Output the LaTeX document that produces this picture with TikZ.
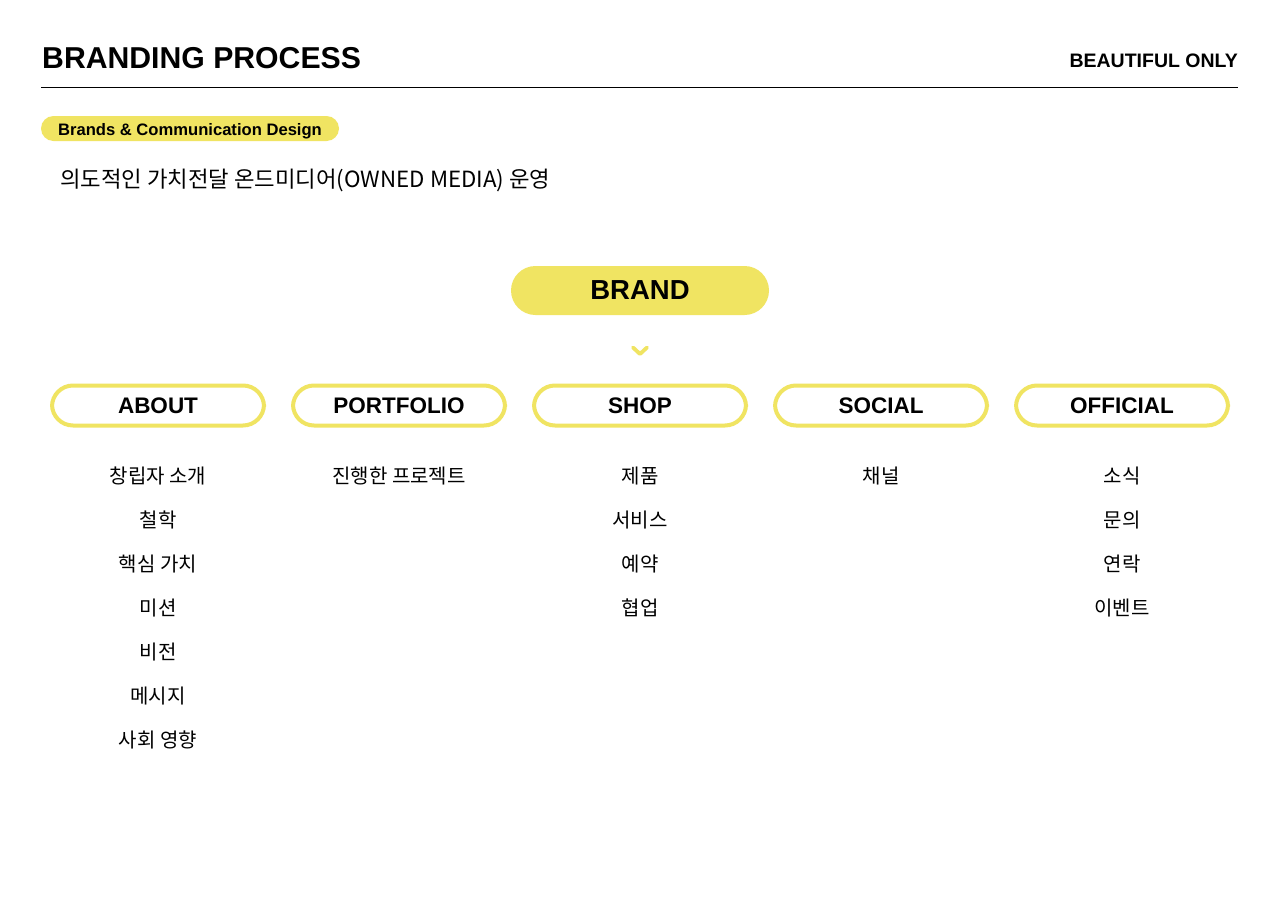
\documentclass[tikz,border=0pt]{standalone}
\usepackage{fontspec}
\setmainfont{Liberation Sans}
\newfontfamily\kr{Noto Sans CJK KR}
\definecolor{brandyellow}{HTML}{F0E462}
\begin{document}
\begin{tikzpicture}[x=1pt,y=-1pt,
  cat/.style={draw=brandyellow,line width=4pt,fill=white,rounded corners=21pt,minimum width=212pt,minimum height=40pt,inner sep=0pt,font=\fontsize{22.5}{24}\selectfont\bfseries},
  item/.style={font=\kr\fontsize{20}{22}\selectfont,inner sep=0pt,anchor=center},
  ]
\useasboundingbox (0,0) rectangle (1280,905);
\fill[white] (0,0) rectangle (1280,905);
% header
\node[anchor=base west,inner sep=0pt,font=\fontsize{30.2}{32}\selectfont\bfseries] (title) at (42,68) {BRANDING PROCESS};
\node[anchor=base east,inner sep=0pt,font=\fontsize{19.5}{22}\selectfont\bfseries] (tag) at (1238,67) {BEAUTIFUL ONLY};
\coordinate (l1) at (41,87.5);
\coordinate (l2) at (1238,87.5);
\draw[line width=1pt] (l1) -- (l2);
% label pill
\node[fill=brandyellow,rounded corners=12.5pt,minimum width=298pt,minimum height=25pt,inner sep=0pt] (pill) at (190,128.5) {};
\node[anchor=base,inner sep=0pt,font=\fontsize{16.6}{18}\selectfont\bfseries] (pilltext) at (190,135) {Brands \& Communication Design};
\node[anchor=west,inner sep=0pt,font=\kr\fontsize{22.3}{24}\selectfont] (sub) at (60,180) {의도적인 가치전달 온드미디어(OWNED MEDIA) 운영};
% brand
\node[fill=brandyellow,rounded corners=24.5pt,minimum width=258pt,minimum height=49pt,inner sep=0pt,font=\fontsize{27.5}{30}\selectfont\bfseries] (brand) at (640,290.5) {BRAND};
\coordinate (c1) at (633,347.5);
\coordinate (c2) at (640,354);
\coordinate (c3) at (647,347.5);
\draw[brandyellow,line width=3.8pt,line cap=round,line join=round] (c1) -- (c2) -- (c3);
% categories
\node[cat] (about) at (158,405.5) {ABOUT};
\node[cat] (portfolio) at (399,405.5) {PORTFOLIO};
\node[cat] (shop) at (640,405.5) {SHOP};
\node[cat] (social) at (881,405.5) {SOCIAL};
\node[cat] (official) at (1122,405.5) {OFFICIAL};
% items
\node[item] (a1) at (158,476) {창립자 소개};
\node[item] (a2) at (158,520) {철학};
\node[item] (a3) at (158,564) {핵심 가치};
\node[item] (a4) at (158,608) {미션};
\node[item] (a5) at (158,652) {비전};
\node[item] (a6) at (158,696) {메시지};
\node[item] (a7) at (158,740) {사회 영향};
\node[item] (p1) at (399,476) {진행한 프로젝트};
\node[item] (s1) at (640,476) {제품};
\node[item] (s2) at (640,520) {서비스};
\node[item] (s3) at (640,564) {예약};
\node[item] (s4) at (640,608) {협업};
\node[item] (so1) at (881,476) {채널};
\node[item] (o1) at (1122,476) {소식};
\node[item] (o2) at (1122,520) {문의};
\node[item] (o3) at (1122,564) {연락};
\node[item] (o4) at (1122,608) {이벤트};
\end{tikzpicture}
\end{document}
